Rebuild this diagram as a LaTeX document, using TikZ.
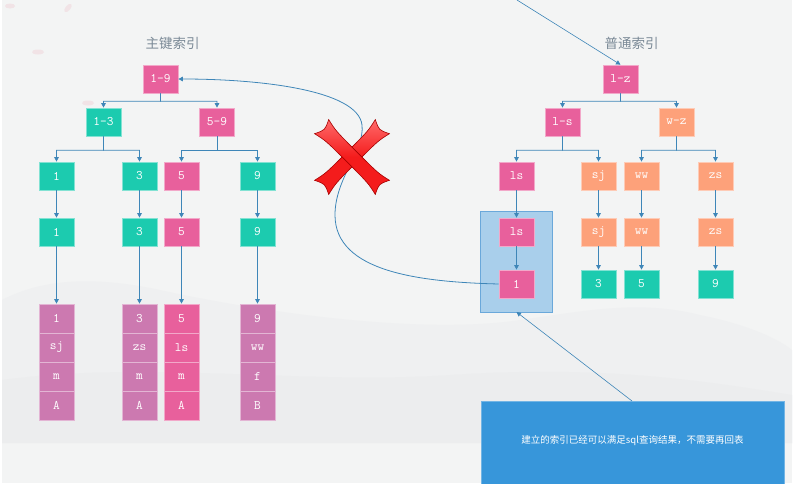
\documentclass[tikz,border=0pt]{standalone}
\usepackage{fontspec}
\usetikzlibrary{arrows.meta,calc}
\newfontfamily\cjk{Noto Sans CJK SC}
\definecolor{pinkN}{HTML}{E8609C}
\definecolor{tealN}{HTML}{1CCBAF}
\definecolor{orangeN}{HTML}{FDA17A}
\definecolor{mauveN}{HTML}{CC79B0}
\definecolor{edgeC}{HTML}{3E86B8}
\definecolor{bgC}{HTML}{F3F4F4}
\definecolor{hillA}{HTML}{EFF0F1}
\definecolor{hillB}{HTML}{ECEDEE}
\definecolor{hlFill}{HTML}{A9CFEB}
\definecolor{hlDraw}{HTML}{6AA8DA}
\definecolor{callC}{HTML}{3796DA}
\definecolor{titleC}{HTML}{7A8996}
\definecolor{petal}{HTML}{F1E3E6}
\definecolor{xRed}{HTML}{F41C1C}
\definecolor{xRedL}{HTML}{FF6A6A}
\begin{document}
\begin{tikzpicture}[x=1pt,y=-1pt,
  box/.style={fill=#1, draw=#1!55!white, line width=0.7pt, minimum width=35pt, minimum height=28pt, inner sep=0pt, text=white, font=\ttfamily\fontsize{13}{13}\selectfont},
  cell/.style={box=#1, minimum height=29pt},
  edge/.style={draw=edgeC, line width=0.8pt, -{Triangle[length=4.5pt,width=4.5pt]}},
  title/.style={text=titleC, font=\cjk\fontsize{13.5}{14}\selectfont}]
\useasboundingbox (0,0) rectangle (796,483);
% background
\fill[white] (0,0) rectangle (796,483);
\fill[bgC] (2,0) rectangle (792,483);
\fill[hillA] (2,300) .. controls (40,280) and (90,275) .. (160,290) .. controls (260,312) and (420,335) .. (520,320) .. controls (590,310) and (640,300) .. (700,315) .. controls (750,325) and (780,340) .. (792,350) -- (792,443) -- (2,443) -- cycle;
\fill[hillB] (2,380) .. controls (150,360) and (300,385) .. (450,375) .. controls (600,365) and (700,380) .. (792,395) -- (792,443) -- (2,443) -- cycle;
\fill[petal] (10,6) ellipse [x radius=5pt, y radius=2.5pt];
\fill[petal, rotate around={50:(68,8)}] (68,8) ellipse [x radius=5pt, y radius=2.5pt];
\fill[petal] (38,52) ellipse [x radius=6pt, y radius=2.5pt];
\fill[petal] (88,103) ellipse [x radius=6pt, y radius=2.5pt];
% titles
\node[title] (t1) at (172.5,43) {主键索引};
\node[title] (t2) at (631.5,43) {普通索引};
% highlight box
\draw[fill=hlFill, draw=hlDraw, line width=0.7pt] (480,211) rectangle (552,312);
\coordinate (hlb) at (516.5,312);
% left tree
\node[box=pinkN] (A) at (160.5,79) {1-9};
\node[box=tealN] (B1) at (103.5,122) {1-3};
\node[box=pinkN] (B2) at (217,122) {5-9};
\node[box=tealN] (C1) at (56.5,176) {1};
\node[box=tealN] (C2) at (139.5,176) {3};
\node[box=pinkN] (C3) at (181.5,176) {5};
\node[box=tealN] (C4) at (257.5,176) {9};
\node[box=tealN] (D1) at (56.5,232) {1};
\node[box=tealN] (D2) at (139.5,232) {3};
\node[box=pinkN] (D3) at (181.5,232) {5};
\node[box=tealN] (D4) at (257.5,232) {9};
% columns
\foreach \n/\x/\c/\a/\b/\cc/\d in {1/56.5/mauveN/1/sj/m/A, 2/139.5/mauveN/3/zs/m/A, 3/181.5/pinkN/5/ls/m/A, 4/257.5/mauveN/9/ww/f/B}{
  \node[cell=\c] (E\n a) at (\x,318.5) {\a};
  \node[cell=\c] (E\n b) at (\x,347.5) {\b};
  \node[cell=\c] (E\n c) at (\x,376.5) {\cc};
  \node[cell=\c] (E\n d) at (\x,405.5) {\d};
}
% right tree
\node[box=pinkN] (R) at (620.5,79) {l-z};
\node[box=pinkN] (S1) at (562.5,122) {l-s};
\node[box=orangeN] (S2) at (676.5,122) {w-z};
\node[box=pinkN] (T1) at (516.5,176) {ls};
\node[box=orangeN] (T2) at (598.5,176) {sj};
\node[box=orangeN] (T3) at (641.5,176) {ww};
\node[box=orangeN] (T4) at (715.5,176) {zs};
\node[box=pinkN] (U1) at (516.5,232) {ls};
\node[box=orangeN] (U2) at (598.5,232) {sj};
\node[box=orangeN] (U3) at (641.5,232) {ww};
\node[box=orangeN] (U4) at (715.5,232) {zs};
\node[box=pinkN] (V1) at (516.5,284) {1};
\node[box=tealN] (V2) at (598.5,284) {3};
\node[box=tealN] (V3) at (641.5,284) {5};
\node[box=tealN] (V4) at (715.5,284) {9};
% tree connectors
\foreach \p/\c in {A/B1,A/B2,B1/C1,B1/C2,B2/C3,B2/C4,R/S1,R/S2,S1/T1,S1/T2,S2/T3,S2/T4}{
  \draw[edge] (\p.south) -- ($(\p.south)!0.55!(\p.south|-\c.north)$) -| (\c.north);
}
\foreach \p/\c in {C1/D1,C2/D2,C3/D3,C4/D4,D1/E1a,D2/E2a,D3/E3a,D4/E4a,T1/U1,T2/U2,T3/U3,T4/U4,U1/V1,U2/V2,U3/V3,U4/V4}{
  \draw[edge] (\p.south) -- (\c.north);
}
% callout
\node[fill=callC, draw=callC!70!white, line width=0.7pt, minimum width=303pt, minimum height=90pt, anchor=north west, inner sep=0pt] (call) at (481,401) {};
\node[text=white, font=\cjk\fontsize{9.5}{10}\selectfont] (calltext) at (632.5,441) {建立的索引已经可以满足sql查询结果，不需要再回表};
\coordinate (callTop) at (632,401);
\draw[edge, line width=0.6pt] (callTop) -- (hlb);
% line from top
\coordinate (topIn) at (517,0);
\draw[edge, line width=0.6pt] (topIn) -- (R.north);
% curve back to primary index
\draw[edge] (V1.west) .. controls (420,282) and (335,272) .. (335,215)
  .. controls (335,178) and (365,150) .. (362,125)
  .. controls (358,90) and (260,79) .. (A.east);
% red cross
\foreach \ang in {45,-45}{
  \begin{scope}[shift={(352,157)}, rotate=\ang]
    \path[top color=xRedL, bottom color=xRed, middle color=xRed, draw=red!65!black, line width=0.6pt]
      (-43,-10) .. controls (-30,-7) .. (0,-7) .. controls (30,-7) .. (43,-10)
      .. controls (38,0) .. (43,10) .. controls (30,7) .. (0,7)
      .. controls (-30,7) .. (-43,10) .. controls (-38,0) .. cycle;
  \end{scope}
}
\end{tikzpicture}
\end{document}
